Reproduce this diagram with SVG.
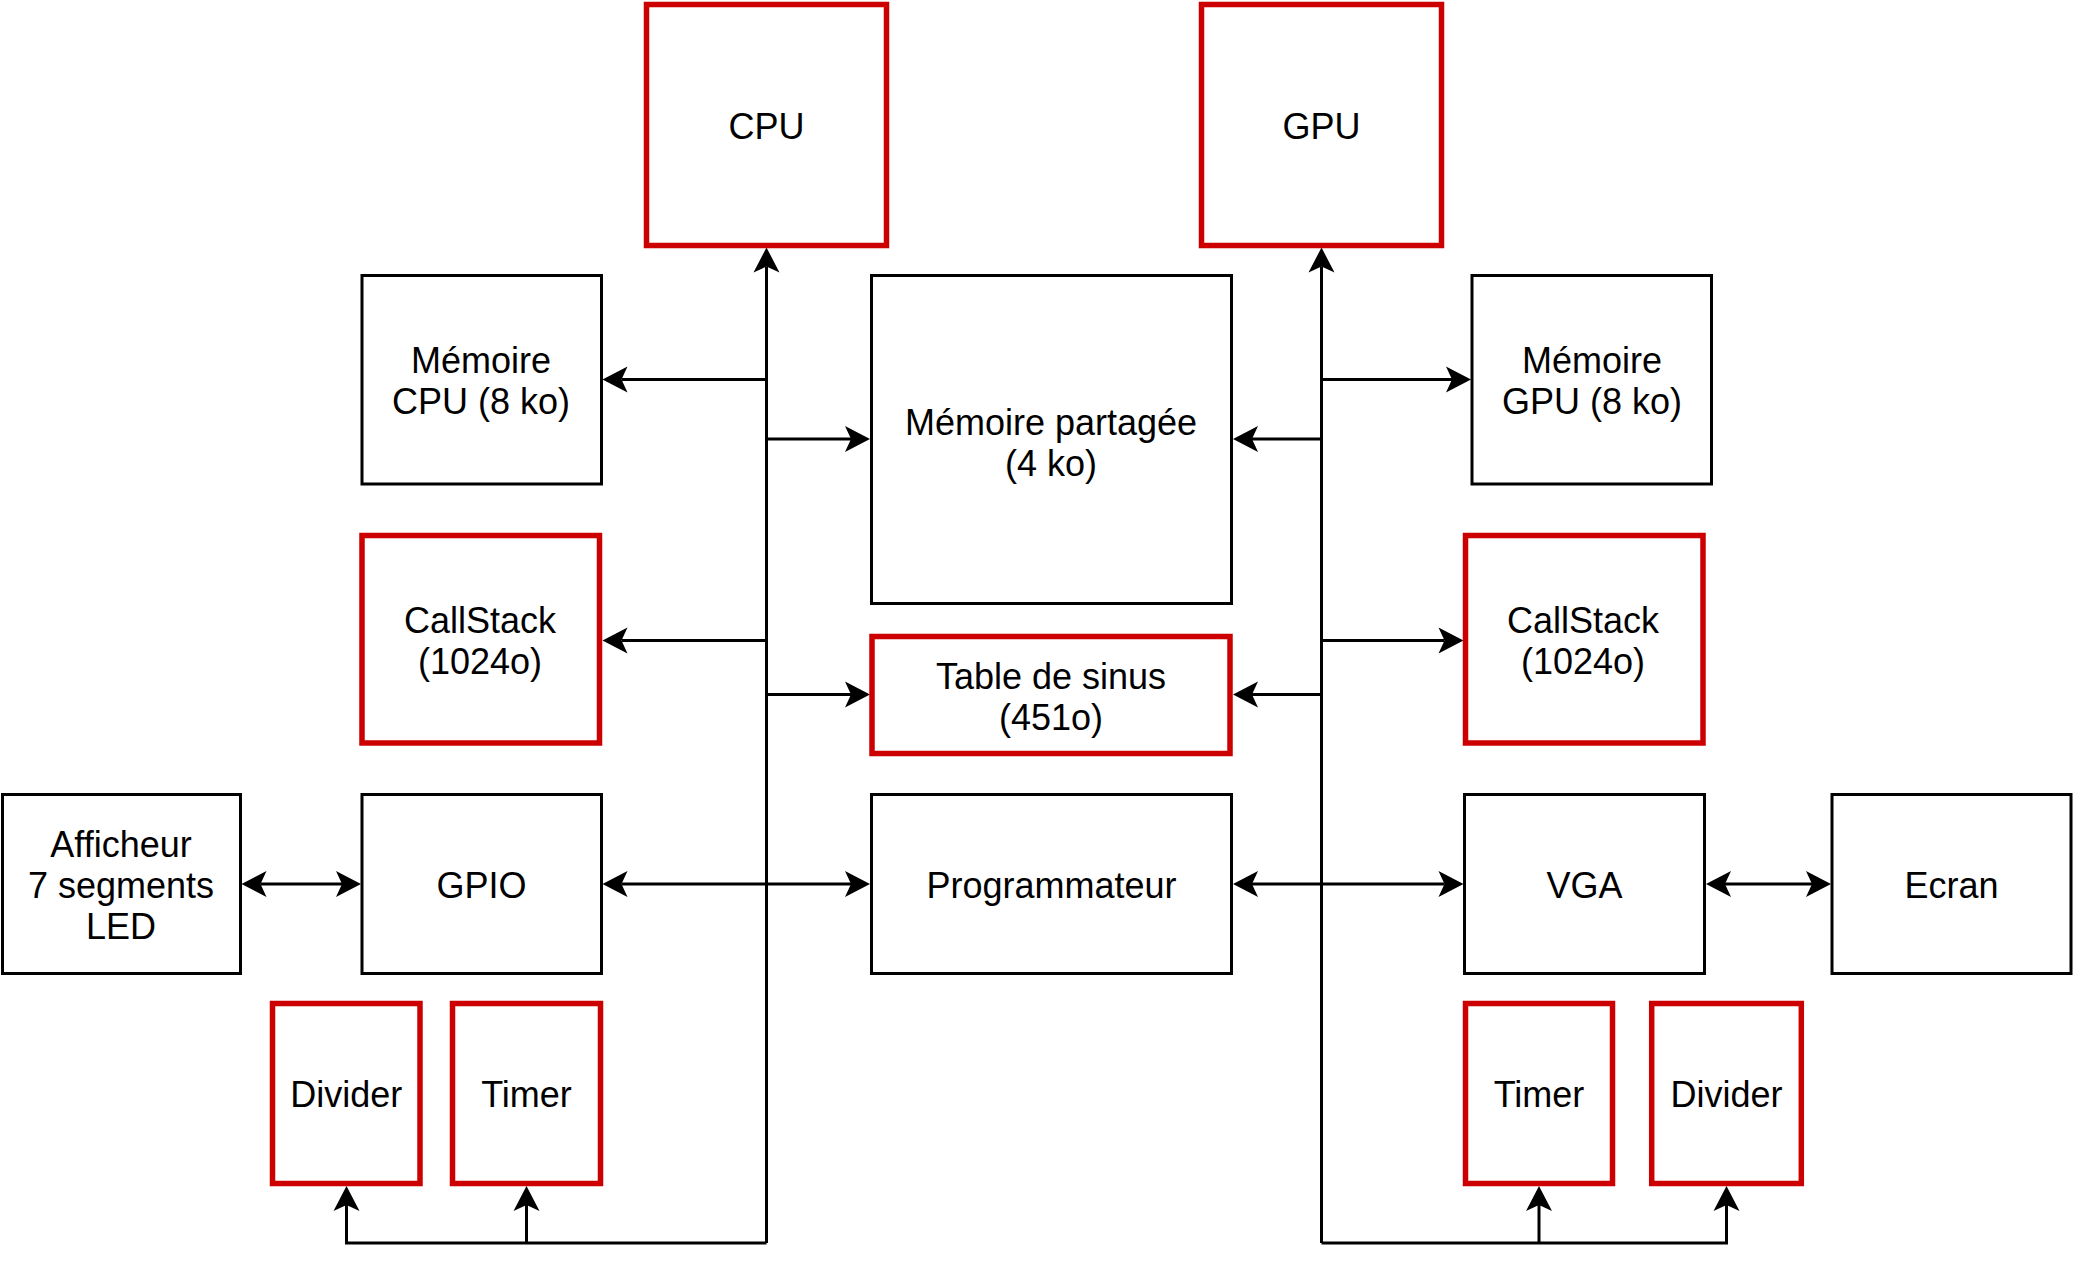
<svg xmlns="http://www.w3.org/2000/svg" width="2073" height="1269" viewBox="0 0 2073 1269">
<style>
.box{fill:#ffffff;stroke:#000000;stroke-width:3}
.red{fill:#ffffff;stroke:#CC0000;stroke-width:5.5}
.lbl{font-family:"Liberation Sans",Helvetica,Arial,sans-serif;font-size:36px;fill:#000000;text-anchor:middle}
.wire{fill:none;stroke:#000000;stroke-width:3;stroke-linejoin:miter}
</style>
<defs>
<marker id="arr" markerUnits="userSpaceOnUse" markerWidth="40" markerHeight="40" refX="0" refY="0" orient="auto-start-reverse" overflow="visible" viewBox="-10 -20 40 40">
<path d="M19,0 L-6,-13 L0,0 L-6,13 Z" fill="#000000" stroke="none"/>
</marker>
</defs>
<rect width="2073" height="1269" fill="#ffffff"/>
<g id="connectors">
<path class="wire" d="M766.5,1243 V266.5" marker-end="url(#arr)"/>
<path class="wire" d="M766.5,379.5 H621.5" marker-end="url(#arr)"/>
<path class="wire" d="M766.5,439 H851" marker-end="url(#arr)"/>
<path class="wire" d="M766.5,640.5 H621.5" marker-end="url(#arr)"/>
<path class="wire" d="M766.5,694.5 H851" marker-end="url(#arr)"/>
<path class="wire" d="M621.5,884 H851" marker-start="url(#arr)" marker-end="url(#arr)"/>
<path class="wire" d="M260.5,884 H342" marker-start="url(#arr)" marker-end="url(#arr)"/>
<path class="wire" d="M766.5,1243 H346.5 V1205" marker-end="url(#arr)"/>
<path class="wire" d="M526.5,1243 V1205" marker-end="url(#arr)"/>
<path class="wire" d="M1321.5,1243 V266.5" marker-end="url(#arr)"/>
<path class="wire" d="M1321.5,379.5 H1452" marker-end="url(#arr)"/>
<path class="wire" d="M1321.5,439 H1252" marker-end="url(#arr)"/>
<path class="wire" d="M1321.5,640.5 H1444.5" marker-end="url(#arr)"/>
<path class="wire" d="M1321.5,694.5 H1252" marker-end="url(#arr)"/>
<path class="wire" d="M1252,884 H1444.5" marker-start="url(#arr)" marker-end="url(#arr)"/>
<path class="wire" d="M1725,884 H1812" marker-start="url(#arr)" marker-end="url(#arr)"/>
<path class="wire" d="M1321.5,1243 H1726.5 V1205" marker-end="url(#arr)"/>
<path class="wire" d="M1539,1243 V1205" marker-end="url(#arr)"/>
</g>
<g id="cpu"><rect class="red" x="646.5" y="4.5" width="240" height="241"/><text class="lbl" x="766.5" y="139">CPU</text></g>
<g id="gpu"><rect class="red" x="1201.5" y="4.5" width="240" height="241"/><text class="lbl" x="1321.5" y="139">GPU</text></g>
<g id="mem-cpu"><rect class="box" x="362" y="275.5" width="239.5" height="208.5"/><text class="lbl" x="481" y="373">Mémoire</text><text class="lbl" x="481" y="414">CPU (8 ko)</text></g>
<g id="mem-partagee"><rect class="box" x="871.5" y="275.5" width="360" height="328"/><text class="lbl" x="1051" y="434.5">Mémoire partagée</text><text class="lbl" x="1051" y="475.5">(4 ko)</text></g>
<g id="mem-gpu"><rect class="box" x="1472" y="275.5" width="239.5" height="208.5"/><text class="lbl" x="1592" y="373">Mémoire</text><text class="lbl" x="1592" y="414">GPU (8 ko)</text></g>
<g id="callstack-cpu"><rect class="red" x="362" y="535.5" width="237.5" height="207.5"/><text class="lbl" x="480" y="632.5">CallStack</text><text class="lbl" x="480" y="673.5">(1024o)</text></g>
<g id="callstack-gpu"><rect class="red" x="1465.5" y="535.5" width="237.5" height="207.5"/><text class="lbl" x="1583" y="632.5">CallStack</text><text class="lbl" x="1583" y="673.5">(1024o)</text></g>
<g id="table-sinus"><rect class="red" x="872" y="636.5" width="358" height="117"/><text class="lbl" x="1051" y="688.5">Table de sinus</text><text class="lbl" x="1051" y="729.5">(451o)</text></g>
<g id="afficheur"><rect class="box" x="2.5" y="794.5" width="238" height="179"/><text class="lbl" x="121" y="856.5">Afficheur</text><text class="lbl" x="121" y="897.5">7 segments</text><text class="lbl" x="121" y="938.5">LED</text></g>
<g id="gpio"><rect class="box" x="362" y="794.5" width="239.5" height="179"/><text class="lbl" x="481.5" y="897.5">GPIO</text></g>
<g id="programmateur"><rect class="box" x="871.5" y="794.5" width="360" height="179"/><text class="lbl" x="1051.5" y="897.5">Programmateur</text></g>
<g id="vga"><rect class="box" x="1464.5" y="794.5" width="240" height="179"/><text class="lbl" x="1584.5" y="897.5">VGA</text></g>
<g id="ecran"><rect class="box" x="1832" y="794.5" width="239" height="179"/><text class="lbl" x="1951.5" y="897.5">Ecran</text></g>
<g id="divider-cpu"><rect class="red" x="272.5" y="1003.5" width="147.5" height="180"/><text class="lbl" x="346.3" y="1107">Divider</text></g>
<g id="timer-cpu"><rect class="red" x="452.5" y="1003.5" width="148" height="180"/><text class="lbl" x="526.5" y="1107">Timer</text></g>
<g id="timer-gpu"><rect class="red" x="1465.5" y="1003.5" width="147" height="180"/><text class="lbl" x="1539" y="1107">Timer</text></g>
<g id="divider-gpu"><rect class="red" x="1651.7" y="1003.5" width="149.6" height="180"/><text class="lbl" x="1726.5" y="1107">Divider</text></g>
</svg>
